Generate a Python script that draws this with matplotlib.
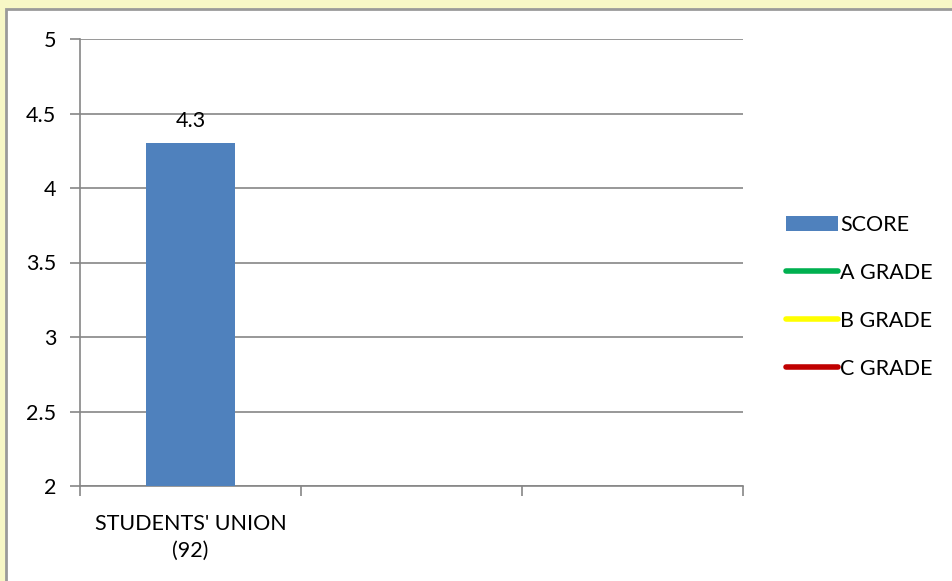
import matplotlib.pyplot as plt
from matplotlib.patches import Rectangle

plt.rcParams['font.family'] = ['Lato', 'DejaVu Sans']

# Data
categories = ["STUDENTS' UNION\n(92)", "", ""]
scores = [4.3]
grade_names = ["A GRADE", "B GRADE", "C GRADE"]
grade_colors = ["#00B050", "#FFFF00", "#C00000"]
y_ticks = [2, 2.5, 3, 3.5, 4, 4.5, 5]

FS = 15.5

fig = plt.figure(figsize=(9.52, 5.81), dpi=100)
fig.patch.set_facecolor("#F7F7C6")

# white chart panel with grey frame
panel = Rectangle((5.5 / 952, -0.05), 1, 1.05 - 9.5 / 581, transform=fig.transFigure,
                  facecolor="white", edgecolor="#9A9A9A", linewidth=2, zorder=-10)
fig.add_artist(panel)

ax = fig.add_axes([80 / 952, 1 - 486 / 581, (743 - 80) / 952, (486 - 39) / 581])
ax.set_facecolor("none")

x = list(range(len(categories)))
ax.bar(x[:len(scores)], scores, width=0.4, color="#4F81BD", zorder=3, label="SCORE")
for xi, v in zip(x, scores):
    ax.text(xi, v + 0.08, f"{v}", ha="center", va="bottom", fontsize=FS, zorder=4)

# empty grade lines for the legend
for name, c in zip(grade_names, grade_colors):
    ax.plot([], [], color=c, linewidth=4, solid_capstyle="round", label=name)

ax.set_ylim(2, 5)
ax.set_xlim(-0.5, len(categories) - 0.5)
ax.set_yticks(y_ticks)
ax.set_yticklabels([f"{t:g}" for t in y_ticks], fontsize=FS)
ax.yaxis.grid(True, color="#868686", linewidth=1.2)
ax.set_axisbelow(True)

ax.set_xticks(x)
ax.set_xticklabels(categories, fontsize=FS, linespacing=1.45)
ax.tick_params(axis="x", length=0, pad=20)
ax.set_xticks([i - 0.5 for i in range(len(categories) + 1)], minor=True)
ax.tick_params(axis="x", which="minor", length=7, color="#868686", width=1.2, direction="out")
ax.tick_params(axis="y", length=7, color="#868686", width=1.2, direction="out", pad=10)

for s in ["top", "right"]:
    ax.spines[s].set_visible(False)
for s in ["left", "bottom"]:
    ax.spines[s].set_color("#868686")
    ax.spines[s].set_linewidth(1.2)

handles, labels = ax.get_legend_handles_labels()
order = [labels.index("SCORE")] + [labels.index(n) for n in grade_names]
fig.legend([handles[i] for i in order], [labels[i] for i in order],
           loc="center left", bbox_to_anchor=(767 / 952, 1 - 297 / 581), frameon=False,
           fontsize=FS, handlelength=2.4, handletextpad=0.1, labelspacing=1.3)

fig.savefig("out.png", dpi=100)
